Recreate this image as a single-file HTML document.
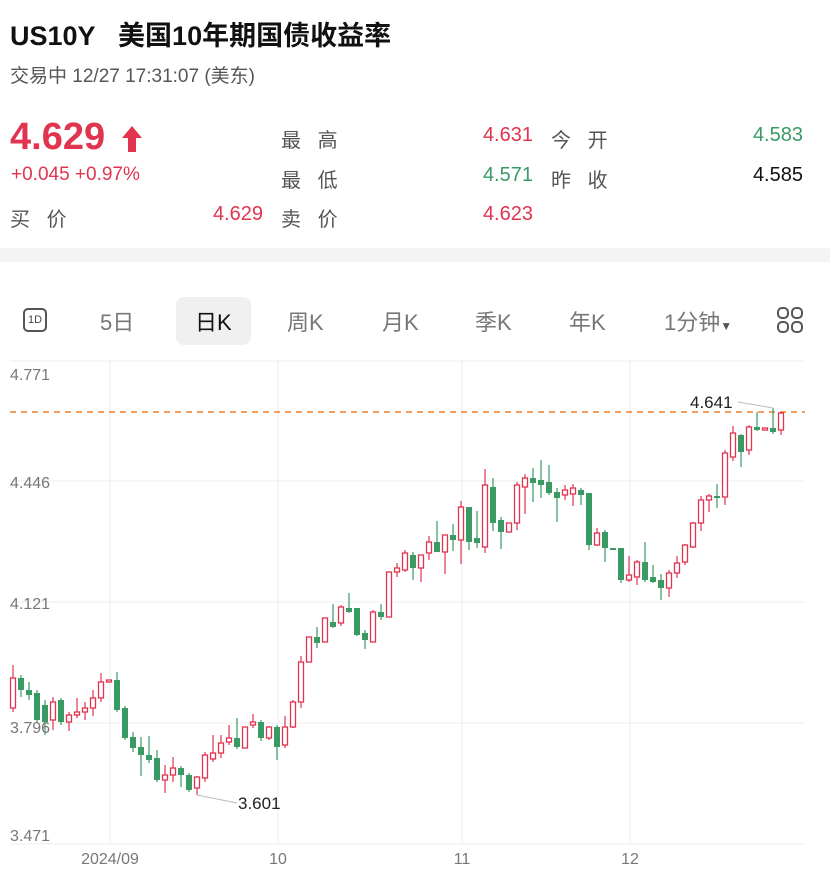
<!DOCTYPE html>
<html><head><meta charset="utf-8"><style>
body{margin:0;width:830px;height:876px;background:#fff;font-family:"Liberation Sans","Noto Sans CJK SC",sans-serif;position:relative;overflow:hidden;color:#111}
.a{position:absolute;white-space:nowrap}
.n{position:absolute;white-space:nowrap;text-align:right;width:120px}
.r{color:#e0344f}.g{color:#3a9a63}.gr{color:#555}
</style></head><body>
<div class="a" style="left:10px;top:14px;font-size:27px;font-weight:bold;color:#111">US10Y&nbsp;&nbsp;&nbsp;美国10年期国债收益率</div>
<div class="a gr" style="left:10px;top:61px;font-size:19px">交易中 12/27 17:31:07 (美东)</div>
<div class="a r" style="left:10px;top:116px;font-size:38px;font-weight:bold">4.629</div>
<svg class="a" style="left:121px;top:125px" width="22" height="28"><path d="M11 1 L21 13 L15 13 L15 27 L7 27 L7 13 L1 13 Z" fill="#e0344f"/></svg>
<div class="a r" style="left:11px;top:164px;font-size:19px">+0.045 +0.97%</div>
<div class="a gr" style="left:10px;top:203px;font-size:20px">买&nbsp;&nbsp;&nbsp;价</div>
<div class="n r" style="left:143px;top:203px;font-size:20px">4.629</div>
<div class="a gr" style="left:281px;top:124px;font-size:20px">最&nbsp;&nbsp;&nbsp;高</div>
<div class="a gr" style="left:281px;top:164px;font-size:20px">最&nbsp;&nbsp;&nbsp;低</div>
<div class="a gr" style="left:281px;top:203px;font-size:20px">卖&nbsp;&nbsp;&nbsp;价</div>
<div class="n r" style="left:413px;top:124px;font-size:20px">4.631</div>
<div class="n g" style="left:413px;top:164px;font-size:20px">4.571</div>
<div class="n r" style="left:413px;top:203px;font-size:20px">4.623</div>
<div class="a gr" style="left:551px;top:124px;font-size:20px">今&nbsp;&nbsp;&nbsp;开</div>
<div class="a gr" style="left:551px;top:164px;font-size:20px">昨&nbsp;&nbsp;&nbsp;收</div>
<div class="n g" style="left:683px;top:124px;font-size:20px">4.583</div>
<div class="n" style="left:683px;top:164px;font-size:20px;color:#111">4.585</div>
<div class="a" style="left:0;top:248px;width:830px;height:14px;background:#f3f3f3"></div>
<div class="a" style="left:176px;top:297px;width:75px;height:48px;background:#f0f0f0;border-radius:8px"></div>
<div class="a" style="left:23px;top:308px;width:24px;height:24px;border:2px solid #555;border-radius:5px;box-sizing:border-box;font-size:11px;line-height:20px;text-align:center;color:#444">1D</div>
<div class="a" style="left:100px;top:305px;font-size:22px;color:#777">5日</div>
<div class="a" style="left:195px;top:305px;font-size:22px;color:#111">日K</div>
<div class="a" style="left:287px;top:305px;font-size:22px;color:#777">周K</div>
<div class="a" style="left:382px;top:305px;font-size:22px;color:#777">月K</div>
<div class="a" style="left:475px;top:305px;font-size:22px;color:#777">季K</div>
<div class="a" style="left:569px;top:305px;font-size:22px;color:#777">年K</div>
<div class="a" style="left:664px;top:305px;font-size:22px;color:#777">1分钟<span style="font-size:12px;color:#555">▼</span></div>
<svg class="a" style="left:776px;top:306px" width="30" height="30"><g fill="none" stroke="#555" stroke-width="2"><rect x="2" y="2" width="10" height="10" rx="4"/><rect x="16" y="2" width="10" height="10" rx="4"/><rect x="2" y="16" width="10" height="10" rx="4"/><rect x="16" y="16" width="10" height="10" rx="4"/></g></svg>
<svg id="c" class="a" style="left:0;top:0" width="830" height="876"></svg>
<script>
var s='';
[361,481,602,723,844].forEach(function(y){s+='<line x1="10" x2="805" y1="'+y+'" y2="'+y+'" stroke="#eee"/>';});
[110,278,462,630].forEach(function(x){s+='<line x1="'+x+'" x2="'+x+'" y1="361" y2="844" stroke="#eee"/>';});
s+='<line x1="10" x2="805" y1="412" y2="412" stroke="#f07f2e" stroke-width="1.5" stroke-dasharray="6,5"/>';
var d=[[13,'r',678,708,665,712],[21,'g',678,690,675,697],[29,'g',690,695,682,700],[37,'g',693,720,690,723],[45,'g',705,722,700,735],[53,'r',702,720,697,730],[61,'g',700,722,698,725],[69,'r',715,722,712,731],[77,'r',712,715,698,718],[85,'r',708,712,702,720],[93,'r',698,708,690,716],[101,'r',682,698,673,702],[109,'r',680,682,680,682],[117,'g',680,710,672,712],[125,'g',708,738,706,740],[133,'g',737,748,732,752],[141,'g',747,755,737,776],[149,'g',755,760,736,763],[157,'g',758,780,750,782],[165,'r',775,780,765,793],[173,'r',768,775,757,782],[181,'g',768,775,766,787],[189,'g',775,790,773,792],[197,'r',777,788,776,795],[205,'r',755,778,752,782],[213,'r',753,759,735,762],[221,'r',743,753,735,758],[229,'r',738,742,725,745],[237,'g',738,747,718,749],[245,'r',727,748,727,748],[253,'r',722,725,714,728],[261,'g',722,738,720,741],[269,'r',727,738,726,740],[277,'g',727,747,725,760],[285,'r',727,745,716,748],[293,'r',702,727,700,728],[301,'r',662,702,656,708],[309,'r',637,662,637,662],[317,'g',637,643,627,648],[325,'r',618,642,618,642],[333,'g',622,627,604,628],[341,'r',607,623,605,626],[349,'g',608,612,593,613],[357,'g',608,635,608,636],[365,'g',633,640,630,649],[373,'r',612,642,610,642],[381,'g',612,617,604,620],[389,'r',572,617,572,617],[397,'r',568,572,563,577],[405,'r',553,570,550,572],[413,'g',555,568,552,580],[421,'r',555,568,555,582],[429,'r',542,553,536,560],[437,'g',542,552,521,552],[445,'r',535,552,535,574],[453,'g',535,540,524,551],[461,'r',507,540,501,564],[469,'g',507,542,507,550],[477,'g',538,543,511,548],[485,'r',485,547,469,553],[493,'g',487,523,478,531],[501,'g',520,532,517,549],[509,'r',523,532,523,532],[517,'r',485,523,482,530],[525,'r',478,487,474,514],[533,'g',478,483,468,502],[541,'g',480,485,460,498],[549,'g',482,493,465,495],[557,'g',492,498,488,522],[565,'r',490,495,485,500],[573,'r',488,494,484,506],[581,'g',490,495,488,505],[589,'g',493,545,493,550],[597,'r',533,545,528,546],[605,'g',532,548,530,562],[613,'g',548,550,548,550],[621,'g',548,580,548,583],[629,'r',575,580,556,582],[637,'r',562,577,560,585],[645,'g',562,580,542,582],[653,'g',577,582,565,583],[661,'g',580,588,574,600],[669,'r',573,588,570,597],[677,'r',563,573,556,578],[685,'r',545,562,544,565],[693,'r',523,547,522,548],[701,'r',500,523,496,531],[709,'r',496,500,494,512],[717,'g',496,498,484,508],[725,'r',453,497,450,505],[733,'r',433,457,426,461],[741,'g',435,452,434,467],[749,'r',427,450,425,455],[757,'g',427,430,412,431],[765,'r',428,430,428,430],[773,'g',428,432,408,434],[781,'r',413,430,412,435]];
d.forEach(function(c){var x=c[0],col=c[1]=='r'?'#e0344f':'#3a9a63',t=c[2],b=c[3],h=Math.max(b-t,1.5);
s+='<line x1="'+x+'" x2="'+x+'" y1="'+c[4]+'" y2="'+c[5]+'" stroke="'+col+'" stroke-width="1.2"/>';
if(c[1]=='r')s+='<rect x="'+(x-2.5)+'" y="'+t+'" width="5" height="'+h+'" fill="#fff" stroke="'+col+'" stroke-width="1.3"/>';
else s+='<rect x="'+(x-3)+'" y="'+t+'" width="6" height="'+h+'" fill="'+col+'"/>';});
s+='<polyline points="197,795 237,803" fill="none" stroke="#bbb"/><text x="238" y="809" font-size="17" fill="#222" font-family="Liberation Sans">3.601</text>';
s+='<polyline points="773,408 738,402" fill="none" stroke="#bbb"/><text x="690" y="408" font-size="17" fill="#222" font-family="Liberation Sans">4.641</text>';
[['4.771',380],['4.446',488],['4.121',609],['3.796',733],['3.471',841]].forEach(function(l){s+='<text x="10" y="'+l[1]+'" font-size="16" fill="#777" font-family="Liberation Sans">'+l[0]+'</text>';});
[['2024/09',110],['10',278],['11',462],['12',630]].forEach(function(l){s+='<text x="'+l[1]+'" y="864" text-anchor="middle" font-size="16" fill="#777" font-family="Liberation Sans">'+l[0]+'</text>';});
document.getElementById('c').innerHTML=s;
</script>
</body></html>
